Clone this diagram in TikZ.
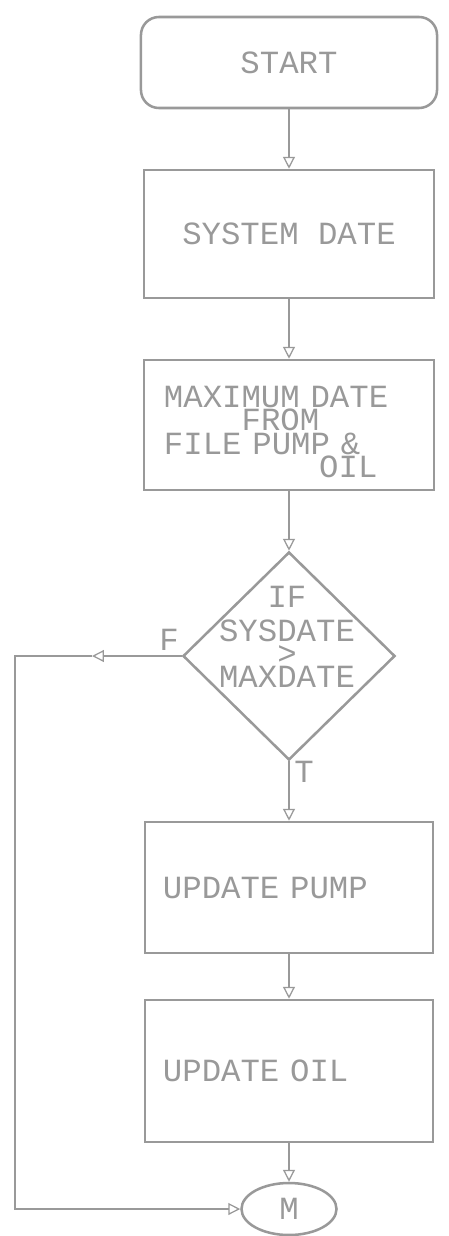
\documentclass[tikz,border=0pt]{standalone}
\usepackage{fontspec}
\newfontfamily\dotfont{Liberation Mono}
\newcommand\dotsize{\fontsize{23}{16.5}\selectfont}
\usetikzlibrary{shapes.geometric,arrows.meta}
\definecolor{ink}{gray}{0.6}

\begin{document}
\begin{tikzpicture}[
  x=0.025cm, y=-0.025cm,
  every node/.style={font=\dotfont\dotsize, text=ink},
  box/.style={draw=ink, line width=1.8pt, rectangle, minimum width=7.2cm, inner sep=0pt},
  flow/.style={draw=ink, line width=0.9pt, -{Triangle[open,length=8.5pt,width=8.5pt]}}
]
\useasboundingbox (0,0) rectangle (448,1236);
\node[box, rounded corners=0.45cm, minimum width=7.4cm, minimum height=2.275cm] (start) at (289,62.5) {START};
\node[box, minimum width=7.25cm, minimum height=3.2cm] (sysdate) at (289,234) {SYSTEM DATE};
\node[box, minimum width=7.25cm, minimum height=3.25cm] (maxdate) at (289,425) {};
\node[align=left, text width=6.25cm, inner sep=0pt] (maxtext) at (289,432)
  {MAXIMUM DATE\\\hphantom{XXXX}FROM\\FILE PUMP \&\\\hphantom{XXXXXXXX}OIL};
\node[draw=ink, line width=1.8pt, diamond, minimum width=5.3cm, minimum height=5.2cm, inner sep=0pt] (dec) at (289,656) {};
\node[align=center] (dectext) at (287,637) {IF\\[0.25cm]SYSDATE\\>\\MAXDATE};
\node[box, minimum height=3.275cm, align=left, text width=6.3cm] (pump) at (289,887.5) {UPDATE PUMP};
\node[box, minimum height=3.55cm, align=left, text width=6.3cm] (oil) at (289,1071) {UPDATE OIL};
\node[draw=ink, line width=1.8pt, ellipse, minimum width=2.375cm, minimum height=1.3cm, inner sep=0pt] (m) at (289,1209) {M};
\coordinate (fmid) at (92,656);
\coordinate (lc) at (15,656);
\coordinate (lb) at (15,1209);

\draw[flow] (start) -- (sysdate);
\draw[flow] (sysdate) -- (maxdate);
\draw[flow] (maxdate) -- (dec);
\draw[flow] (dec.south) -- node[pos=0.17, right] {T} (pump.north);
\draw[flow] (pump) -- (oil);
\draw[flow] (oil) -- (m);
\draw[flow] (dec.west) -- node[pos=0.14, above] {F} (fmid);
\draw[flow] (fmid) -- (lc) -- (lb) -- (m.west);
\end{tikzpicture}
\end{document}
